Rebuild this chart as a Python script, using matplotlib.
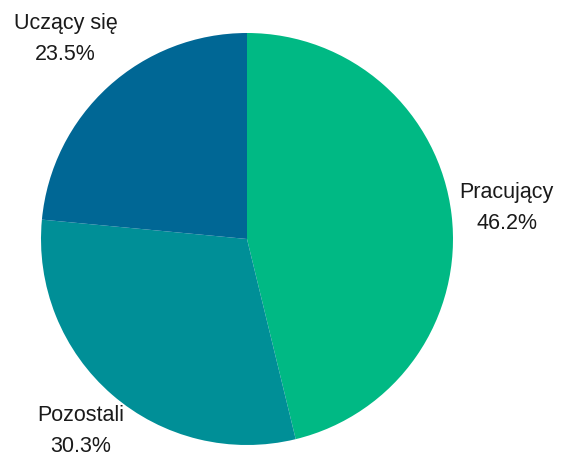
import matplotlib.pyplot as plt
import numpy as np

labels = ["Pracujący", "Pozostali", "Uczący się"]
values = [46.2, 30.3, 23.5]
colors = ["#00B984", "#008F97", "#006795"]
label_dist = [1.27, 1.235, 1.31]

plt.rcParams['font.family'] = ['Liberation Sans', 'DejaVu Sans']

fig = plt.figure(figsize=(5.61, 4.57), dpi=100)
ax = fig.add_axes([0, 0, 1, 1])

wedges, _ = ax.pie(values, colors=colors, startangle=90, counterclock=False,
                   radius=206, center=(247, 218), frame=True)

for w, lab, val, d in zip(wedges, labels, values, label_dist):
    ang = np.deg2rad((w.theta1 + w.theta2) / 2)
    x = w.center[0] + d * w.r * np.cos(ang)
    y = w.center[1] + d * w.r * np.sin(ang)
    ax.text(x, y, f"{lab}\n{val:.1f}%", ha='center', va='center',
            fontsize=15.5, color='#1a1a1a', linespacing=1.62)

ax.set_xlim(0, 561)
ax.set_ylim(0, 457)
ax.set_aspect('equal')
ax.axis('off')

fig.savefig("out.png", dpi=100)
